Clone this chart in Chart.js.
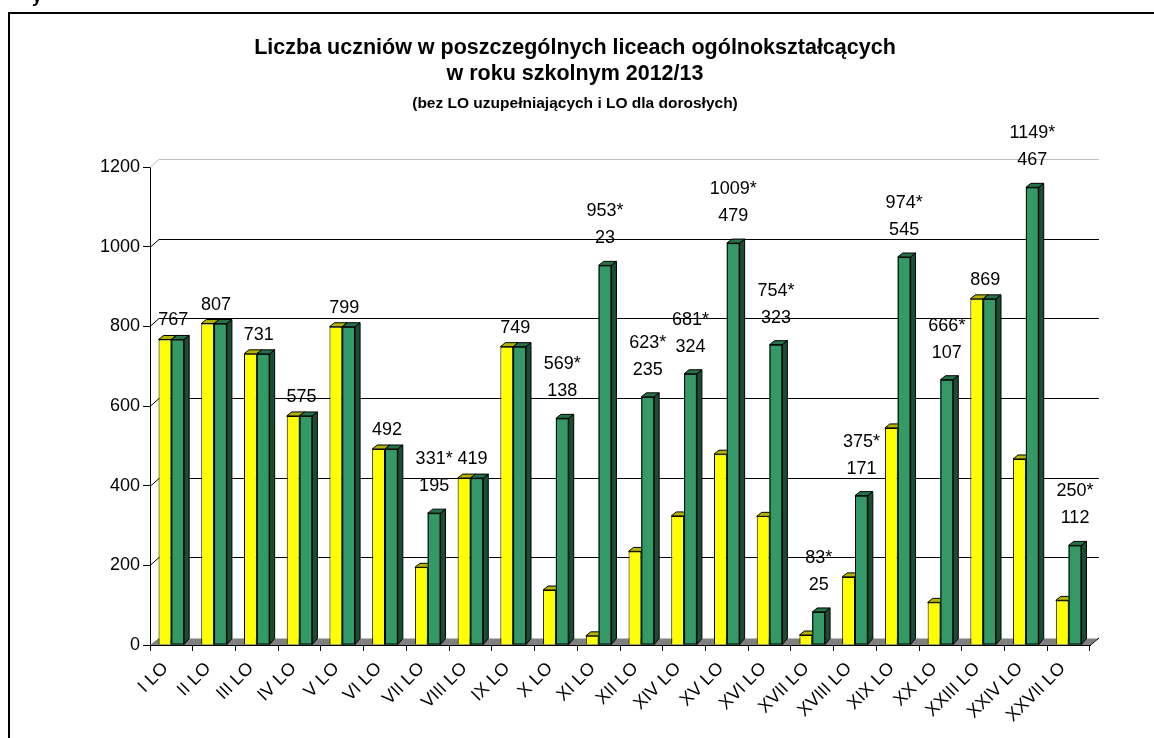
<!DOCTYPE html>
<html>
<head>
<meta charset="utf-8">
<script src="https://cdn.jsdelivr.net/npm/chart.js@4/dist/chart.umd.min.js"></script>
<style>
  html, body { margin: 0; padding: 0; background: #fff; }
  canvas { display: block; }
</style>
</head>
<body>
<canvas id="wykres" width="1154" height="738" style="width:1154px;height:738px"></canvas>
<script>
var licea = ["I LO", "II LO", "III LO", "IV LO", "V LO", "VI LO", "VII LO", "VIII LO", "IX LO", "X LO", "XI LO",
  "XII LO", "XIV LO", "XV LO", "XVI LO", "XVII LO", "XVIII LO", "XIX LO", "XX LO", "XXIII LO", "XXIV LO", "XXVII LO"];
var bezDoroslych = [767, 807, 731, 575, 799, 492, 195, 419, 749, 138, 23, 235, 324, 479, 323, 25, 171, 545, 107, 869, 467, 112];
var razem = [767, 807, 731, 575, 799, 492, 331, 419, 749, 569, 953, 623, 681, 1009, 754, 83, 375, 974, 666, 869, 1149, 250];
var osY = [0, 200, 400, 600, 800, 1000, 1200];

var tytul = ["Liczba uczniów w poszczególnych liceach ogólnokształcących", "w roku szkolnym 2012/13"];
var podtytul = "(bez LO uzupełniających i LO dla dorosłych)";

var DX = 5, DY = 4;     // glebokosc slupkow
var WX = 9, WY = 7;     // glebokosc sciany tylnej
var FONT = '"Liberation Sans", Arial';

function sciany(c, b, top, side) {
  var L = b.x - b.width / 2, R = b.x + b.width / 2, T = b.y, B = b.base;
  c.fillStyle = top;
  c.beginPath();
  c.moveTo(L, T); c.lineTo(R, T); c.lineTo(R + DX, T - DY); c.lineTo(L + DX, T - DY);
  c.closePath(); c.fill(); c.stroke();
  c.fillStyle = side;
  c.beginPath();
  c.moveTo(R, T); c.lineTo(R + DX, T - DY); c.lineTo(R + DX, B - DY - 2); c.lineTo(R, B);
  c.closePath(); c.fill(); c.stroke();
}

var ramka = {
  id: 'ramka',
  beforeDraw: function (chart) {
    var c = chart.ctx;
    c.save();
    c.fillStyle = '#fff';
    c.fillRect(0, 0, chart.width, chart.height);
    c.fillStyle = '#000';
    c.font = 'bold 18px ' + FONT;
    c.textAlign = 'left';
    c.textBaseline = 'alphabetic';
    c.fillText('y', 32, 2);
    c.strokeStyle = '#000';
    c.lineWidth = 2;
    c.beginPath();
    c.moveTo(9, chart.height + 2);
    c.lineTo(9, 13);
    c.lineTo(chart.width + 2, 13);
    c.stroke();
    c.textAlign = 'center';
    c.textBaseline = 'middle';
    c.font = 'bold 21.5px ' + FONT;
    c.fillText(tytul[0], 575, 48);
    c.fillText(tytul[1], 575, 74);
    c.font = 'bold 15.5px ' + FONT;
    c.fillText(podtytul, 575, 104);
    c.restore();
  },
  beforeDatasetsDraw: function (chart) {
    var c = chart.ctx, a = chart.chartArea, y = chart.scales.y;
    c.save();
    // podloga
    c.fillStyle = '#808080';
    c.beginPath();
    c.moveTo(a.left, a.bottom);
    c.lineTo(a.right, a.bottom);
    c.lineTo(a.right + WX, a.bottom - WY);
    c.lineTo(a.left + WX, a.bottom - WY);
    c.closePath();
    c.fill();
    c.strokeStyle = '#c0c0c0';
    c.lineWidth = 1;
    c.beginPath();
    c.moveTo(a.left + WX, a.bottom - WY + 0.5);
    c.lineTo(a.right + WX, a.bottom - WY + 0.5);
    c.stroke();
    // linie siatki na tylnej scianie
    osY.forEach(function (v) {
      if (v === 0) return;
      var py = Math.round(y.getPixelForValue(v)) + 0.5;
      c.strokeStyle = v === 1200 ? '#c0c0c0' : '#000';
      c.beginPath();
      c.moveTo(a.left, py);
      c.lineTo(a.left + WX, py - WY - 1);
      c.lineTo(a.right + WX, py - WY - 1);
      c.stroke();
    });
    c.strokeStyle = '#000';
    c.beginPath();
    c.moveTo(a.right, a.bottom + 0.5);
    c.lineTo(a.right + WX, a.bottom - WY);
    c.stroke();
    c.restore();
  },
  afterDatasetsDraw: function (chart) {
    var c = chart.ctx;
    var m0 = chart.getDatasetMeta(0).data, m1 = chart.getDatasetMeta(1).data;
    c.save();
    c.strokeStyle = '#000';
    c.lineWidth = 1;
    for (var i = 0; i < licea.length; i++) {
      // zolty najpierw, zielony przykrywa jego bok
      sciany(c, m0[i], '#b3b300', '#999900');
      var g = m1[i];
      var L = g.x - g.width / 2;
      c.fillStyle = '#339966';
      c.fillRect(L, g.y, g.width, g.base - g.y);
      c.strokeRect(L + 0.5, g.y + 0.5, g.width - 1, g.base - g.y - 1);
      sciany(c, g, '#267349', '#1a4d33');
    }
    // etykiety danych
    c.fillStyle = '#000';
    c.font = '18px ' + FONT;
    c.textAlign = 'center';
    c.textBaseline = 'middle';
    for (i = 0; i < licea.length; i++) {
      if (bezDoroslych[i] === razem[i]) {
        c.fillText(String(razem[i]), (m0[i].x + m1[i].x) / 2 + 2, m1[i].y - 19);
      } else {
        c.fillText(razem[i] + '*', m1[i].x, m1[i].y - 54);
        c.fillText(String(bezDoroslych[i]), m1[i].x, m1[i].y - 27);
      }
    }
    c.restore();
  }
};

new Chart(document.getElementById('wykres'), {
  type: 'bar',
  data: {
    labels: licea,
    datasets: [{
      label: 'bez LO dla dorosłych',
      data: bezDoroslych,
      backgroundColor: '#ffff00',
      borderColor: '#000',
      borderWidth: 1
    }, {
      label: 'razem',
      data: razem,
      backgroundColor: '#339966',
      borderColor: '#000',
      borderWidth: 1
    }]
  },
  options: {
    responsive: false,
    animation: false,
    layout: { padding: { top: 167, right: 64, left: 0, bottom: 0 } },
    datasets: { bar: { barPercentage: 1, categoryPercentage: 0.6 } },
    plugins: { legend: { display: false }, title: { display: false }, tooltip: { enabled: false } },
    scales: {
      x: {
        afterFit: function (s) { s.height = 93; },
        grid: { offset: true, drawOnChartArea: false, tickLength: 6, color: '#000' },
        border: { color: '#000', width: 1 },
        ticks: {
          color: '#000', font: { family: FONT, size: 18 },
          minRotation: 45, maxRotation: 45, autoSkip: false, padding: 7, labelOffset: -6
        }
      },
      y: {
        min: 0, max: 1200,
        afterFit: function (s) { s.width = 150; },
        afterBuildTicks: function (s) { s.ticks = osY.map(function (v) { return { value: v }; }); },
        grid: { drawOnChartArea: false, tickLength: 7, color: '#000' },
        border: { color: '#000', width: 1 },
        ticks: {
          color: '#000', font: { family: FONT, size: 18 }, padding: 3,
          callback: function (v) { return String(v); }
        }
      }
    }
  },
  plugins: [ramka]
});
</script>
</body>
</html>
